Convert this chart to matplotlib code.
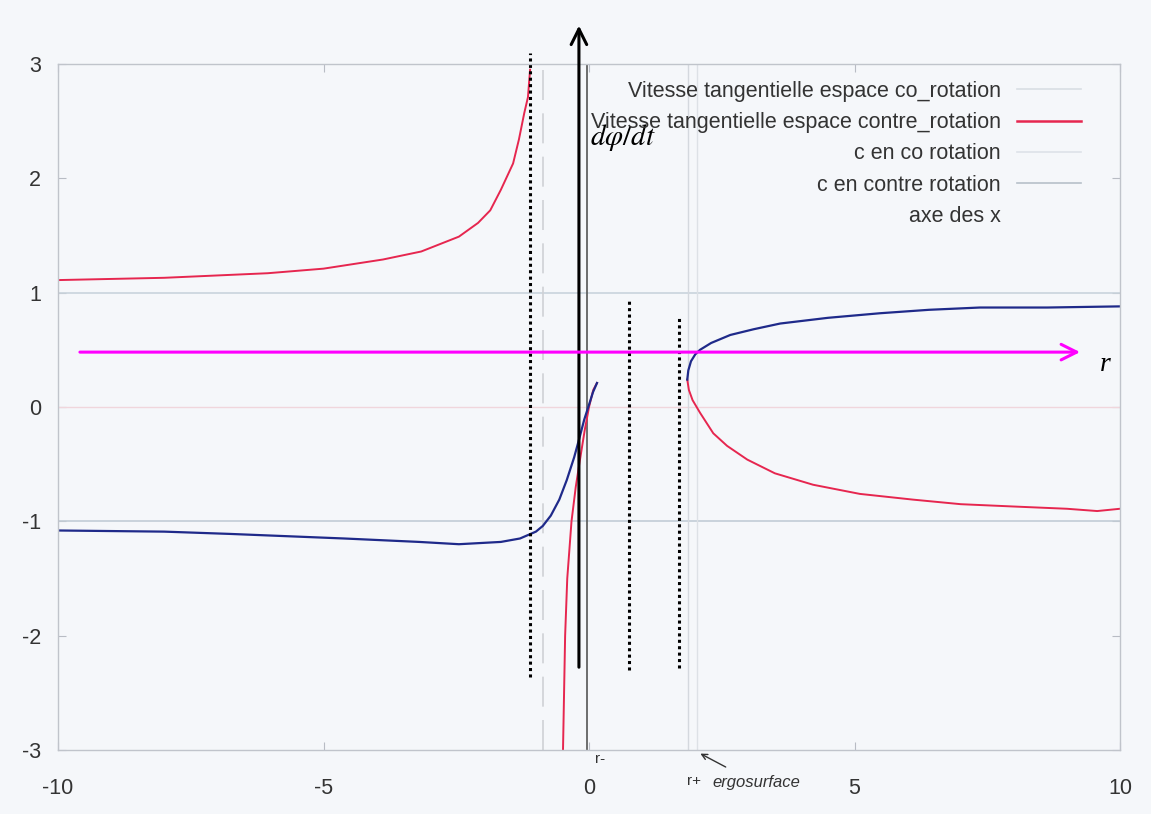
import matplotlib.pyplot as plt
from matplotlib.lines import Line2D

plt.rcParams['font.family'] = ['Liberation Sans', 'DejaVu Sans']
plt.rcParams['axes.unicode_minus'] = False

# hand-traced curves (r, dphi/dt)
red_left_r = [-10, -8.0, -6.05, -5.0, -3.88, -3.16, -2.45, -2.09, -1.86, -1.66, -1.43, -1.32, -1.22, -1.15, -1.11]
red_left_v = [1.11, 1.13, 1.17, 1.21, 1.29, 1.36, 1.49, 1.61, 1.72, 1.90, 2.13, 2.34, 2.57, 2.71, 2.95]

red_in_r = [-0.49, -0.47, -0.45, -0.41, -0.33, -0.25, -0.17, -0.08, 0.0, 0.08, 0.15]
red_in_v = [-3.0, -2.5, -2.0, -1.5, -1.0, -0.70, -0.46, -0.2, 0.0, 0.15, 0.21]

red_right_r = [1.85, 1.88, 1.95, 2.09, 2.34, 2.6, 2.98, 3.5, 4.22, 5.1, 6.10, 7.0, 7.98, 9.0, 9.57, 10.0]
red_right_v = [0.24, 0.15, 0.06, -0.05, -0.23, -0.34, -0.46, -0.58, -0.68, -0.76, -0.81, -0.85, -0.87, -0.89, -0.91, -0.89]

blue_left_r = [-10.0, -8.0, -6.76, -4.61, -3.2, -2.45, -1.66, -1.3, -1.0, -0.87, -0.72, -0.56, -0.42,
               -0.28, -0.18, -0.09, 0.0, 0.075, 0.15]
blue_left_v = [-1.08, -1.09, -1.11, -1.15, -1.18, -1.20, -1.18, -1.15, -1.09, -1.04, -0.95, -0.81, -0.64,
               -0.44, -0.27, -0.11, 0.02, 0.13, 0.21]

blue_right_r = [1.85, 1.87, 1.92, 2.0, 2.09, 2.3, 2.66, 3.1, 3.60, 4.5, 5.48, 6.4, 7.36, 8.63, 10.0]
blue_right_v = [0.24, 0.32, 0.40, 0.46, 0.50, 0.56, 0.63, 0.68, 0.73, 0.78, 0.82, 0.85, 0.87, 0.87, 0.88]

legend_labels = ["Vitesse tangentielle espace co_rotation",
                 "Vitesse tangentielle espace contre_rotation",
                 "c en co rotation",
                 "c en contre rotation",
                 "axe des x"]

xticks = [-10, -5, 0, 5, 10]
yticks = [-3, -2, -1, 0, 1, 2, 3]

paper = '#f5f7fa'
red = '#e6264f'
blue = '#1f2a8a'

fig = plt.figure(figsize=(11.51, 8.14), dpi=100, facecolor=paper)
ax = fig.add_axes([0.0504, 0.0786, 0.9227, 0.8428], facecolor=paper)
ax.set_xlim(-10, 10)
ax.set_ylim(-3, 3)

# faint printed gnuplot lines
ax.axhline(1, color='#c9d3dc', lw=1.2)
ax.axhline(-1, color='#c2ccd6', lw=1.2)
ax.axhline(0, color='#f0d6dc', lw=1.0)
ax.axvline(-0.87, color='#cfd1d5', lw=1.2, ls=(0, (18, 8)))
ax.axvline(-0.03, color='#555555', lw=1.2)
ax.axvline(1.86, color='#d4d8de', lw=1.0)
ax.axvline(2.03, color='#dde1e6', lw=1.0)

# hand-drawn curves
ax.plot(red_left_r, red_left_v, color=red, lw=1.4)
ax.plot(red_in_r, red_in_v, color=red, lw=1.4)
ax.plot(red_right_r, red_right_v, color=red, lw=1.4)
ax.plot(blue_left_r, blue_left_v, color=blue, lw=1.6)
ax.plot(blue_right_r, blue_right_v, color=blue, lw=1.6)

# dotted markers
for x, y0, y1 in [(-1.11, -2.36, 3.10), (0.75, -2.30, 0.95), (1.69, -2.28, 0.78)]:
    ax.plot([x, x], [y0, y1], color='black', lw=2.2, ls=(0, (1, 1.1)), clip_on=False)

# axes arrows
ax.annotate('', xy=(-0.19, 3.36), xytext=(-0.19, -2.30),
            arrowprops=dict(arrowstyle='->', color='black', lw=2.2, mutation_scale=28),
            annotation_clip=False)
ax.text(0.02, 2.36, r'$d\varphi/dt$', fontsize=21, va='center', ha='left',
        math_fontfamily='stix')
ax.annotate('', xy=(9.30, 0.48), xytext=(-9.64, 0.48),
            arrowprops=dict(arrowstyle='->', color='#ff00ff', lw=2.2, mutation_scale=28),
            annotation_clip=False)
ax.text(9.62, 0.37, 'r', fontsize=20, style='italic', family='Liberation Serif',
        va='center', ha='left')

# handwritten notes
ax.text(0.11, -3.08, 'r-', fontsize=11, color='#333333', va='center', clip_on=False)
ax.text(1.85, -3.27, 'r+', fontsize=11, color='#333333', va='center', clip_on=False)
ax.text(2.32, -3.28, 'ergosurface', fontsize=12, color='#333333', va='center',
        style='italic', clip_on=False)
ax.annotate('', xy=(2.05, -3.02), xytext=(2.62, -3.16),
            arrowprops=dict(arrowstyle='->', color='#333333', lw=1.0),
            annotation_clip=False)

# legend like gnuplot key
handles = [Line2D([], [], color='#d9dee4', lw=1.2),
           Line2D([], [], color=red, lw=1.8),
           Line2D([], [], color='#dde2e8', lw=1.2),
           Line2D([], [], color='#b7c0c9', lw=1.2),
           Line2D([], [], color=paper, lw=1.2)]
ax.legend(handles, legend_labels, loc='upper right', bbox_to_anchor=(1092 / 1151, 1 - 70 / 814),
          bbox_transform=fig.transFigure, frameon=False, markerfirst=False,
          fontsize=15.5, handlelength=3.0, handletextpad=0.75, labelspacing=0.48,
          borderpad=0, labelcolor='#333333')

ax.set_xticks(xticks)
ax.set_yticks(yticks)
ax.tick_params(direction='in', length=6, color='#b8bcc4', labelsize=15.5,
               labelcolor='#333333', top=True, right=True)
ax.tick_params(axis='x', pad=20)
ax.tick_params(axis='y', pad=12)
for s in ax.spines.values():
    s.set_color('#c0c4cb')
    s.set_linewidth(1.0)

fig.savefig('out.png', dpi=100, facecolor=paper)
